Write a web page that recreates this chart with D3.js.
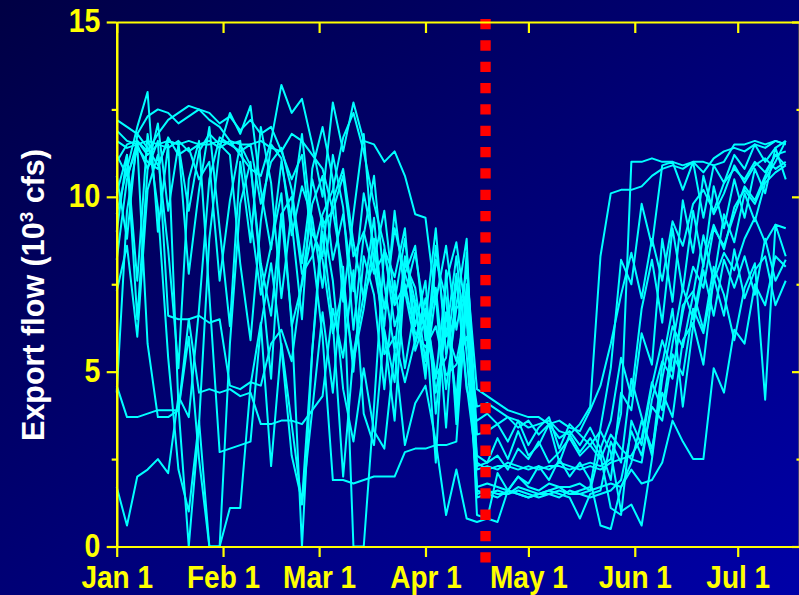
<!DOCTYPE html>
<html>
<head>
<meta charset="utf-8">
<script src="https://cdn.jsdelivr.net/npm/d3@7"></script>
<style>
  html, body { margin: 0; padding: 0; background: #000050; }
  svg { display: block; }
</style>
</head>
<body>
<svg id="chart" width="799" height="595"></svg>
<script>
// Days since Jan 1 for every sample (every third day, Jan 1 - Jul 15)
const days = d3.range(0, 196, 3);

// Axis ticks
const monthDays = [0, 31, 59, 90, 120, 151, 181];
const monthLabels = ["Jan 1", "Feb 1", "Mar 1", "Apr 1", "May 1", "Jun 1", "Jul 1"];
const yMajor = [0, 5, 10, 15];
const yMinor = [2.5, 7.5, 12.5];

// Start of the spring export curtailment (days since Jan 1)
const cutoffDay = 107.5;

// Export flow, thousand cfs, one array per year
const flowA = [11.9,11.6,11.5,11.6,11.5,11.6,11.5,11.6,11.5,11.5,
  11.6,11.5,11.3,11.5,9.8,11.0,11.4,10.2,8.1,10.5,
  9.2,9.6,7.8,5.0,8.3,7.2,4.5,7.6,5.1,6.9,
  4.8,8.2,7.1,3.9,7.5,2.4,
  2.2,2.3,2.3,2.2,2.3,2.2,2.3,2.3,2.2,2.3,
  2.4,2.3,2.5,3.8,11.0,11.0,11.1,11.0,11.0,10.9,
  11.0,11.0,10.9,11.0,11.5,11.5,11.6,11.5,11.6,11.5];
const flowB = [12.2,12.0,11.8,12.3,12.5,12.4,12.1,12.3,12.5,12.2,
  12.0,11.6,11.2,10.8,10.6,11.6,13.2,12.4,12.8,11.5,
  10.0,12.7,11.3,12.7,11.6,11.5,11.0,11.3,10.6,9.5,
  9.4,7.0,8.6,6.2,7.9,4.5,
  4.3,4.1,3.9,3.8,3.7,3.7,3.5,3.6,3.4,3.3,
  3.9,4.6,5.8,7.2,8.4,7.1,8.8,7.6,9.3,8.6,
  9.8,10.2,9.6,10.4,10.8,10.5,11.0,10.7,11.2,11.3];
const flowC = [9.5,10.8,12.0,13.0,9.0,11.5,4.0,0.0,3.5,8.8,
  11.4,12.4,11.8,12.6,10.2,8.5,11.0,9.3,6.5,10.8,
  12.0,10.5,7.0,9.5,11.8,8.0,6.3,9.6,7.2,8.4,
  6.5,9.1,5.5,6.9,8.8,1.6,
  1.5,1.6,1.5,1.6,1.5,1.4,1.5,1.6,1.5,1.5,
  1.6,2.8,1.9,4.4,3.9,6.1,5.2,8.8,7.0,9.9,
  8.4,10.6,9.5,10.1,10.9,10.4,10.9,11.1,10.8,11.0];
const flowD = [4.4,9.6,11.5,5.8,3.7,3.7,3.9,6.0,2.5,0.0,
  0.0,5.8,9.8,11.0,7.8,4.8,9.5,6.5,0.0,5.6,
  9.0,6.4,2.0,5.5,7.2,9.4,6.1,3.6,7.8,8.6,
  5.9,7.4,4.5,6.8,7.2,0.9,
  0.8,0.7,1.6,1.5,1.4,1.5,1.6,1.5,1.4,0.8,
  1.5,1.6,3.0,2.4,4.8,3.7,2.6,5.2,6.8,4.0,
  6.3,7.9,6.6,8.2,7.4,8.3,7.2,8.8,7.6,8.2];
const flowE = [1.7,0.6,2.0,2.2,2.5,2.1,4.3,3.7,6.8,10.5,
  11.7,11.5,11.6,9.4,7.2,8.6,10.1,6.3,7.5,9.0,
  8.2,6.1,7.4,5.3,6.8,8.8,5.5,6.0,4.7,5.9,
  7.1,4.4,6.2,5.3,6.8,2.2,
  2.3,2.2,2.4,2.3,2.2,2.3,2.2,2.4,2.3,2.2,
  2.3,2.2,2.4,2.5,2.6,3.1,4.7,3.9,5.8,7.4,
  6.5,8.1,9.2,8.5,9.7,10.2,9.8,10.5,11.0,11.6];
const flowF = [8.2,10.5,11.6,11.2,11.5,11.4,11.6,11.3,11.5,11.6,
  11.4,11.6,11.5,11.5,11.6,11.4,11.3,10.5,11.2,8.5,
  6.0,1.9,1.9,1.8,1.9,2.0,2.0,2.0,2.7,2.8,
  2.8,2.9,2.9,3.0,7.2,1.4,
  1.5,1.4,1.6,1.5,1.4,1.5,1.5,1.4,1.6,1.5,
  1.4,1.5,1.6,1.9,3.3,2.6,4.0,3.6,5.5,4.9,
  6.8,6.1,7.6,8.4,7.9,8.8,9.4,8.7,9.2,9.1];
const flowG = [10.1,11.2,7.6,11.8,9.7,5.4,2.2,1.0,3.6,0.0,
  0.0,1.1,1.1,4.6,6.4,2.3,5.8,3.5,1.2,3.9,
  6.7,4.4,8.0,0.0,0.0,4.0,8.5,7.7,9.1,5.6,
  6.5,2.4,7.9,3.5,7.0,2.6,
  2.4,3.1,2.5,3.3,2.6,2.9,3.5,2.4,3.2,2.7,
  3.1,2.6,1.1,0.9,3.6,2.9,4.6,5.9,5.0,6.7,
  8.0,7.4,9.1,8.6,9.5,10.3,9.9,10.6,11.2,10.9];
const flowH = [4.6,3.7,3.7,3.8,3.9,3.9,3.9,6.5,4.4,4.5,
  4.4,4.5,4.3,4.4,3.5,3.5,3.6,3.6,3.5,3.9,
  4.3,6.8,5.4,7.9,3.8,2.9,6.2,4.7,8.1,7.4,
  5.3,8.6,6.0,8.3,5.5,1.7,
  1.8,1.7,1.6,2.0,1.7,1.6,1.8,1.7,1.7,1.8,
  1.6,1.7,1.8,1.7,2.2,1.8,1.9,2.4,3.6,3.0,
  2.5,2.5,5.1,4.4,6.2,5.8,7.5,6.9,8.3,8.0];
const flowI = [11.6,11.4,11.5,10.8,11.6,6.6,6.5,6.5,6.6,6.4,
  6.5,4.6,4.5,4.7,4.6,5.8,6.2,5.3,7.6,9.8,
  10.6,8.2,9.5,7.3,10.1,8.6,6.8,9.1,7.8,6.9,
  5.0,7.2,3.4,7.7,4.5,3.6,
  3.8,3.5,3.7,3.4,3.6,3.2,3.5,3.1,3.3,2.9,
  3.4,2.8,3.6,5.4,4.3,6.8,8.2,6.4,9.1,7.3,
  9.6,8.0,10.3,9.1,10.5,9.4,10.8,10.1,11.4,10.5];
const flowJ = [11.0,11.5,11.6,11.3,11.8,12.2,12.4,12.6,12.5,12.4,
  12.1,12.3,11.9,12.2,11.8,12.0,11.3,11.8,11.6,11.2,
  10.8,9.6,10.6,8.3,9.0,7.8,8.4,6.9,7.5,6.1,
  5.7,6.3,4.9,5.2,6.0,4.0,
  4.1,3.9,3.7,3.6,3.4,3.5,3.6,3.3,3.2,3.5,
  4.0,8.3,10.1,10.2,10.2,10.3,10.6,10.8,10.9,10.8,
  11.0,10.7,11.1,11.3,11.4,11.3,11.5,11.4,11.6,11.5];
const flowK = [9.0,11.2,6.5,10.8,12.1,9.6,11.5,7.8,10.2,12.0,
  9.1,6.3,11.0,8.7,12.0,10.4,7.1,9.6,11.8,9.0,
  8.3,11.2,9.7,6.2,8.9,10.6,7.5,5.6,8.3,7.0,
  6.2,4.8,7.6,8.7,6.5,1.5,
  1.6,1.5,1.5,1.7,1.6,1.5,1.6,1.7,1.5,1.6,
  1.7,3.4,5.1,8.2,7.5,9.8,8.6,10.9,11.0,10.2,
  11.0,9.4,10.9,10.4,11.2,10.8,11.5,11.0,11.4,11.6];
const flowL = [7.3,8.6,6.0,10.2,11.2,8.5,5.1,10.5,11.6,7.2,
  2.7,2.8,2.9,3.0,6.3,8.1,5.7,2.6,1.3,5.6,
  9.4,7.6,4.5,3.0,5.1,3.3,2.8,5.6,2.9,4.1,
  4.6,3.0,0.9,2.2,0.8,0.7,
  0.8,2.1,1.6,2.0,1.8,2.3,1.9,2.5,2.0,2.4,
  1.9,0.6,0.5,1.7,2.4,3.6,2.8,4.4,3.7,5.9,
  6.4,5.2,7.7,6.6,8.5,7.1,7.9,8.3,6.9,7.6];
const flowM = [11.2,10.6,11.4,11.0,10.8,11.7,11.2,11.4,10.5,11.0,
  7.6,9.9,11.5,10.9,8.1,6.6,9.5,10.0,7.8,8.3,
  9.5,10.2,11.7,12.4,11.3,9.8,8.6,6.3,7.3,5.8,
  6.8,4.9,5.4,7.8,4.6,2.3,
  2.4,2.6,2.2,2.8,2.5,3.0,2.4,2.7,3.1,2.6,
  2.9,2.5,3.2,2.8,2.5,2.4,4.2,5.3,4.8,6.9,
  7.3,6.2,8.0,7.2,5.9,7.4,8.1,4.2,9.2,8.3];
const flowN = [10.6,8.8,11.8,11.4,10.9,11.6,11.5,9.6,11.3,11.8,
  11.5,11.2,8.1,5.9,9.3,11.5,11.1,8.9,10.3,9.4,
  7.4,9.9,10.8,8.7,7.1,8.2,9.6,7.0,8.8,6.3,
  7.6,3.8,6.7,4.2,8.4,3.2,
  3.3,3.5,3.0,3.6,2.9,3.4,3.7,2.8,3.5,3.2,
  2.9,3.3,2.7,1.0,1.2,0.6,2.5,4.8,6.3,5.7,
  7.2,8.9,7.6,9.5,8.7,10.1,9.3,10.4,10.7,10.9];

const series = [flowA, flowB, flowC, flowD, flowE, flowF, flowG,
                flowH, flowI, flowJ, flowK, flowL, flowM, flowN];

const svg = d3.select("#chart");
const W = 799, H = 595;
const FONT = "'Liberation Sans', Arial, Helvetica, sans-serif";
const STRETCH = 1.15;   // tall lettering of the tick labels

// Background gradient
const defs = svg.append("defs");
const grad = defs.append("linearGradient")
  .attr("id", "bg").attr("x1", 0).attr("y1", 0).attr("x2", 1).attr("y2", 1);
grad.append("stop").attr("offset", 0).attr("stop-color", "#000044");
grad.append("stop").attr("offset", 1).attr("stop-color", "#0000a8");
svg.append("rect").attr("width", W).attr("height", H).attr("fill", "url(#bg)");

// Scales
const x = d3.scaleLinear().domain([0, 199]).range([116.7, 116.7 + 199 * 3.431]);
const y = d3.scaleLinear().domain([0, 15]).range([546.5, 22]);

// Flow lines
const line = d3.line().x((d, i) => x(days[i])).y(d => y(d));
svg.append("g")
  .selectAll("path")
  .data(series)
  .join("path")
  .attr("d", line)
  .attr("fill", "none")
  .attr("stroke", "#00ffff")
  .attr("stroke-width", 2)
  .attr("stroke-linejoin", "round");

// Curtailment marker
svg.append("line")
  .attr("x1", x(cutoffDay)).attr("x2", x(cutoffDay))
  .attr("y1", 19).attr("y2", 563)
  .attr("stroke", "#ff0000")
  .attr("stroke-width", 10.4)
  .attr("stroke-dasharray", "10.3 11.03");

// Axes
const AX = "#ffff00";
function styleAxis(g) {
  g.selectAll(".domain").attr("stroke", AX).attr("stroke-width", 2.2);
  g.selectAll(".tick line").attr("stroke", AX).attr("stroke-width", 2.2);
}

// Bottom axis with month labels
const gx = svg.append("g")
  .attr("transform", `translate(0,${y(0)})`)
  .call(d3.axisBottom(x).tickValues(monthDays)
        .tickFormat((d, i) => monthLabels[i])
        .tickSize(10.5).tickSizeOuter(0));
styleAxis(gx);
gx.selectAll(".tick text")
  .attr("y", null).attr("dy", null)
  .attr("transform", `translate(0,41) scale(1,${STRETCH})`)
  .attr("fill", AX)
  .attr("font-family", FONT).attr("font-weight", "bold").attr("font-size", 28);

// Top axis, ticks pointing in
const gt = svg.append("g")
  .attr("transform", `translate(0,${y(15)})`)
  .call(d3.axisTop(x).tickValues(monthDays).tickFormat("")
        .tickSize(-11).tickSizeOuter(0));
styleAxis(gt);

// Left axis with value labels
const gy = svg.append("g")
  .attr("transform", `translate(${x(0)},0)`)
  .call(d3.axisLeft(y).tickValues(yMajor).tickFormat(d3.format("d"))
        .tickSize(10).tickSizeOuter(0));
styleAxis(gy);
gy.selectAll(".tick text")
  .attr("x", null).attr("dy", null)
  .attr("transform", `translate(-16.3,9.6) scale(1,${STRETCH})`)
  .attr("text-anchor", "end")
  .attr("fill", AX)
  .attr("font-family", FONT).attr("font-weight", "bold").attr("font-size", 28.5);

const gyMinor = svg.append("g")
  .attr("transform", `translate(${x(0)},0)`)
  .call(d3.axisLeft(y).tickValues(yMinor).tickFormat("")
        .tickSize(5).tickSizeOuter(0));
styleAxis(gyMinor);

// Right axis, ticks pointing in
const gr = svg.append("g")
  .attr("transform", `translate(${x(199)},0)`)
  .call(d3.axisRight(y).tickValues(yMajor).tickFormat("")
        .tickSize(-7.5).tickSizeOuter(0));
styleAxis(gr);
const grMinor = svg.append("g")
  .attr("transform", `translate(${x(199)},0)`)
  .call(d3.axisRight(y).tickValues(yMinor).tickFormat("")
        .tickSize(-3).tickSizeOuter(0));
styleAxis(grMinor);

// Y-axis title
const title = svg.append("text")
  .attr("transform", "translate(44,295) rotate(-90)")
  .attr("text-anchor", "middle")
  .attr("fill", "#ffffff")
  .attr("font-family", FONT).attr("font-weight", "bold").attr("font-size", 30.5);
title.append("tspan").text("Export flow (10");
title.append("tspan").attr("dy", -11).attr("font-size", 19).text("3");
title.append("tspan").attr("dy", 11).text(" cfs)");
</script>
</body>
</html>
